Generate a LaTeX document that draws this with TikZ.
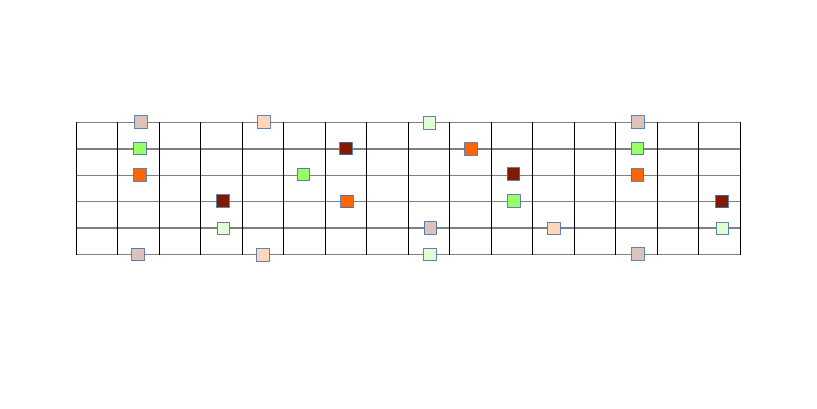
\documentclass[tikz,border=0pt]{standalone}
\definecolor{tanc}{RGB}{219,194,187}
\definecolor{greenc}{RGB}{153,255,102}
\definecolor{orangec}{RGB}{255,102,0}
\definecolor{redc}{RGB}{128,26,0}
\definecolor{palec}{RGB}{226,255,212}
\definecolor{peachc}{RGB}{255,214,184}
\definecolor{edgec}{RGB}{70,110,175}
\definecolor{stringc}{RGB}{128,128,128}
\tikzset{
  mk/.style={draw=edgec, draw opacity=0.85, line width=0.9pt, minimum size=12.5pt, inner sep=0pt, outer sep=0pt, fill=#1, rectangle},
  fret/.style={draw=black, line width=0.9pt},
  strg/.style={draw=stringc, line width=1.3pt}
}
\begin{document}
\begin{tikzpicture}[x=1pt,y=-1pt]
\useasboundingbox[fill=white] (0,0) rectangle (817,409);
% strings
\foreach \r in {0,...,5} {
  \draw[strg] (76,{122.5+26.4*\r}) -- (740,{122.5+26.4*\r});
}
% frets
\foreach \c in {0,...,16} {
  \draw[fret] ({76+41.5*\c},122.5) -- ({76+41.5*\c},254.5);
}
% markers row 1
\node[mk=tanc] (a1) at (141,122) {};
\node[mk=peachc] (a2) at (264,122) {};
\node[mk=palec] (a3) at (429.5,123) {};
\node[mk=tanc] (a4) at (638,122) {};
% row 2
\node[mk=greenc] (b1) at (140,148.5) {};
\node[mk=redc] (b2) at (346,148.5) {};
\node[mk=orangec] (b3) at (471,149) {};
\node[mk=greenc] (b4) at (637.5,148.5) {};
% row 3
\node[mk=orangec] (c1) at (140,175) {};
\node[mk=greenc] (c2) at (303.5,174.7) {};
\node[mk=redc] (c3) at (513.5,174) {};
\node[mk=orangec] (c4) at (637.5,175) {};
% row 4
\node[mk=redc] (d1) at (223,201) {};
\node[mk=orangec] (d2) at (347,201.5) {};
\node[mk=greenc] (d3) at (514,201) {};
\node[mk=redc] (d4) at (722,201.5) {};
% row 5
\node[mk=palec] (e1) at (223.3,228.5) {};
\node[mk=tanc] (e2) at (430.3,228) {};
\node[mk=peachc] (e3) at (553.7,228.5) {};
\node[mk=palec] (e4) at (722.5,228.3) {};
% row 6
\node[mk=tanc] (f1) at (138,254.5) {};
\node[mk=peachc] (f2) at (263,255) {};
\node[mk=palec] (f3) at (430,254.3) {};
\node[mk=tanc] (f4) at (638,254) {};
\end{tikzpicture}
\end{document}
